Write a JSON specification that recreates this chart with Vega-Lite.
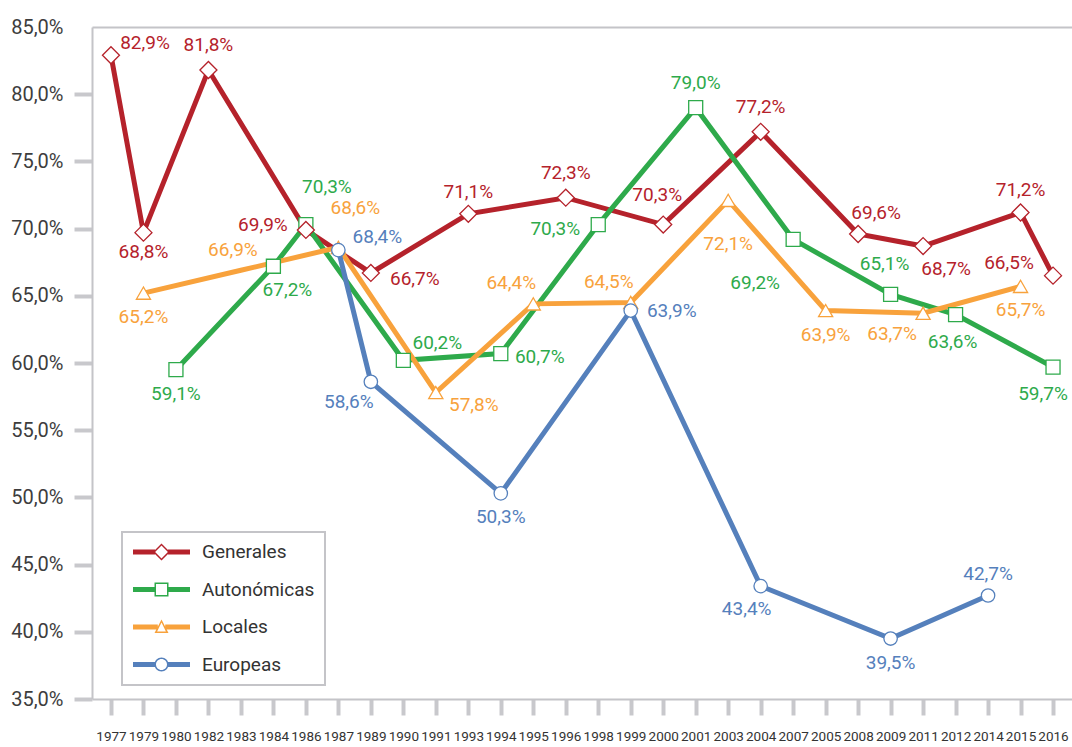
{
  "$schema": "https://vega.github.io/schema/vega-lite/v6.json",
  "width": 980,
  "height": 672,
  "autosize": {"type": "none"},
  "padding": {"left": 92, "top": 27, "right": 0, "bottom": 48},
  "background": "white",
  "config": {"view": {"stroke": null}, "font": "Roboto"},
  "data": {
    "values": [
      {"series": "Generales", "year": "1977", "value": 82.9},
      {"series": "Generales", "year": "1979", "value": 69.7, "shown": 68.8},
      {"series": "Generales", "year": "1982", "value": 81.8},
      {"series": "Generales", "year": "1986", "value": 69.9},
      {"series": "Generales", "year": "1989", "value": 66.7},
      {"series": "Generales", "year": "1993", "value": 71.1},
      {"series": "Generales", "year": "1996", "value": 72.3},
      {"series": "Generales", "year": "2000", "value": 70.3},
      {"series": "Generales", "year": "2004", "value": 77.2},
      {"series": "Generales", "year": "2008", "value": 69.6},
      {"series": "Generales", "year": "2011", "value": 68.7},
      {"series": "Generales", "year": "2015", "value": 71.2},
      {"series": "Generales", "year": "2016", "value": 66.5},
      {"series": "Autonómicas", "year": "1980", "value": 59.5, "shown": 59.1},
      {"series": "Autonómicas", "year": "1984", "value": 67.2},
      {"series": "Autonómicas", "year": "1986", "value": 70.3},
      {"series": "Autonómicas", "year": "1990", "value": 60.2},
      {"series": "Autonómicas", "year": "1994", "value": 60.7},
      {"series": "Autonómicas", "year": "1998", "value": 70.3},
      {"series": "Autonómicas", "year": "2001", "value": 79.0},
      {"series": "Autonómicas", "year": "2007", "value": 69.2},
      {"series": "Autonómicas", "year": "2009", "value": 65.1},
      {"series": "Autonómicas", "year": "2012", "value": 63.6},
      {"series": "Autonómicas", "year": "2016", "value": 59.7},
      {"series": "Locales", "year": "1979", "value": 65.2},
      {"series": "Locales", "year": "1983", "value": 66.9},
      {"series": "Locales", "year": "1987", "value": 68.6},
      {"series": "Locales", "year": "1991", "value": 57.8},
      {"series": "Locales", "year": "1995", "value": 64.4},
      {"series": "Locales", "year": "1999", "value": 64.5},
      {"series": "Locales", "year": "2003", "value": 72.1},
      {"series": "Locales", "year": "2005", "value": 63.9},
      {"series": "Locales", "year": "2011", "value": 63.7},
      {"series": "Locales", "year": "2015", "value": 65.7},
      {"series": "Europeas", "year": "1987", "value": 68.4},
      {"series": "Europeas", "year": "1989", "value": 58.6},
      {"series": "Europeas", "year": "1994", "value": 50.3},
      {"series": "Europeas", "year": "1999", "value": 63.9},
      {"series": "Europeas", "year": "2004", "value": 43.4},
      {"series": "Europeas", "year": "2009", "value": 39.5},
      {"series": "Europeas", "year": "2014", "value": 42.7}
    ]
  },
  "encoding": {
    "x": {
      "field": "year", "type": "ordinal",
      "sort": ["1977","1979","1980","1982","1983","1984","1986","1987","1989","1990","1991","1993","1994","1995","1996","1998","1999","2000","2001","2003","2004","2007","2005","2008","2009","2011","2012","2014","2015","2016"],
      "scale": {"type": "point", "padding": 0.584},
      "axis": {
        "title": null, "labelAngle": 0, "labelFont": "Roboto", "labelFontSize": 13.5,
        "labelColor": "#333333", "labelPadding": 14, "tickSize": 16, "tickWidth": 4, "tickColor": "#c8c8cc",
        "domainColor": "#c4c4c8", "domainWidth": 2, "labelOverlap": false, "grid": false
      }
    },
    "y": {
      "field": "value", "type": "quantitative",
      "scale": {"domain": [35, 85], "nice": false, "zero": false},
      "axis": {
        "title": null, "values": [35,40,45,50,55,60,65,70,75,80,85],
        "labelExpr": "replace(format(datum.value, '.1f'), '.', ',') + '%'",
        "labelFont": "Roboto", "labelFontSize": 20, "labelColor": "#3d3d3d", "labelPadding": 11,
        "tickSize": 18, "tickWidth": 4, "tickColor": "#c8c8cc",
        "tickOpacity": {"condition": {"test": "datum.value == 85", "value": 0}, "value": 1},
        "domainColor": "#c4c4c8", "domainWidth": 2,
        "grid": true, "gridColor": "#c4c4c8", "gridWidth": 2,
        "gridOpacity": {"condition": {"test": "datum.value == 85", "value": 1}, "value": 0}
      }
    },
    "color": {
      "field": "series", "type": "nominal",
      "scale": {"domain": ["Generales","Autonómicas","Locales","Europeas"], "range": ["#B5222B","#2EAA4B","#F8A23C","#5580BC"]},
      "legend": {
        "orient": "none", "legendX": 30, "legendY": 505, "title": null, "direction": "vertical",
        "symbolSize": 400, "symbolStrokeWidth": 0, "labelFont": "Roboto", "labelFontSize": 19,
        "labelColor": "#333333", "labelOffset": 50, "rowPadding": 17.5, "padding": 10,
        "strokeColor": "#c4c4c8", "fillColor": "white",
        "encode": {
          "legend": {"update": {"strokeWidth": {"value": 2}}},
          "symbols": {"update": {
            "shape": {"signal": "datum.value === 'Generales' ? 'M-0.9,-0.25L1.3,-0.25L1.3,0.25L-0.9,0.25Z M2.6,-0.25L4.8,-0.25L4.8,0.25L2.6,0.25Z M1.95,-0.85L2.8,0L1.95,0.85L1.1,0Z M1.95,-0.64L1.31,0L1.95,0.64L2.59,0Z' : datum.value === 'Autonómicas' ? 'M-0.9,-0.25L1.3,-0.25L1.3,0.25L-0.9,0.25Z M2.6,-0.25L4.8,-0.25L4.8,0.25L2.6,0.25Z M1.25,-0.7L2.65,-0.7L2.65,0.7L1.25,0.7Z M1.4,-0.55L1.4,0.55L2.5,0.55L2.5,-0.55Z' : datum.value === 'Locales' ? 'M-0.9,-0.25L1.58,-0.25L1.58,0.25L-0.9,0.25Z M2.32,-0.25L4.8,-0.25L4.8,0.25L2.32,0.25Z M1.95,-0.75L2.65,0.6L1.25,0.6Z M1.95,-0.45L1.51,0.45L2.39,0.45Z' : 'M-0.9,-0.25L1.35,-0.25L1.35,0.25L-0.9,0.25Z M2.55,-0.25L4.8,-0.25L4.8,0.25L2.55,0.25Z M1.25,0A0.7,0.7,0,1,1,2.65,0A0.7,0.7,0,1,1,1.25,0Z M1.4,0A0.55,0.55,0,1,0,2.5,0A0.55,0.55,0,1,0,1.4,0Z'"},
            "size": {"value": 400},
            "fill": {"signal": "scale('color', datum.value)"},
            "stroke": {"value": "transparent"},
            "strokeWidth": {"value": 0},
            "opacity": {"value": 1}
          }}
        }
      }
    }
  },
  "layer": [
    {"mark": {"type": "line", "strokeWidth": 5}, "encoding": {}},
    {
      "transform": [{"filter": "datum.series == 'Autonómicas'"}],
      "mark": {"type": "point", "shape": "square", "size": 196, "filled": false, "fill": "white", "strokeWidth": 1.3, "opacity": 1}
    },
    {
      "transform": [{"filter": "datum.series == 'Locales' && datum.year != '1983'"}],
      "mark": {"type": "point", "shape": "triangle-up", "size": 200, "filled": false, "fill": "white", "strokeWidth": 1.3, "opacity": 1}
    },
    {
      "transform": [{"filter": "datum.series == 'Europeas'"}],
      "mark": {"type": "point", "shape": "circle", "size": 180, "filled": false, "fill": "white", "strokeWidth": 1.3, "opacity": 1}
    },
    {
      "transform": [{"filter": "datum.series == 'Generales'"}],
      "mark": {"type": "point", "shape": "diamond", "size": 289, "filled": false, "fill": "white", "strokeWidth": 1.3, "opacity": 1}
    },
    {
      "transform": [
        {"calculate": "substring(datum.series, 0, 1) + datum.year", "as": "k"},
        {"calculate": "replace(format(isValid(datum.shown) ? datum.shown : datum.value, '.1f'), '.', ',') + '%'", "as": "lbl"}
      ],
      "encoding": {"text": {"field": "lbl"}},
      "layer": [
        {"transform": [{"filter": {"field": "k", "oneOf": ["G1982","G1996","A2001","G2004"]}}], "mark": {"type": "text", "font": "Roboto", "fontSize": 19, "dx": 0, "dy": -25}},
        {"transform": [{"filter": {"field": "k", "oneOf": ["G1993","G2015","E2014"]}}], "mark": {"type": "text", "font": "Roboto", "fontSize": 19, "dx": 0, "dy": -22}},
        {"transform": [{"filter": {"field": "k", "oneOf": ["A1980","L1979","L2015","E1994","E2009","L2005"]}}], "mark": {"type": "text", "font": "Roboto", "fontSize": 19, "dx": 0, "dy": 24}},
        {"transform": [{"filter": {"field": "k", "oneOf": ["A2012"]}}], "mark": {"type": "text", "font": "Roboto", "fontSize": 19, "dx": -3, "dy": 27}},
        {"transform": [{"filter": {"field": "k", "oneOf": ["A2016"]}}], "mark": {"type": "text", "font": "Roboto", "fontSize": 19, "dx": -10, "dy": 27}},
        {"transform": [{"filter": {"field": "k", "oneOf": ["G1979"]}}], "mark": {"type": "text", "font": "Roboto", "fontSize": 19, "dx": 0, "dy": 19}},
        {"transform": [{"filter": {"field": "k", "oneOf": ["G1977"]}}], "mark": {"type": "text", "font": "Roboto", "fontSize": 19, "dx": 34, "dy": -12}},
        {"transform": [{"filter": {"field": "k", "oneOf": ["G1986"]}}], "mark": {"type": "text", "font": "Roboto", "fontSize": 19, "dx": -43, "dy": -5}},
        {"transform": [{"filter": {"field": "k", "oneOf": ["G1989"]}}], "mark": {"type": "text", "font": "Roboto", "fontSize": 19, "dx": 44, "dy": 6}},
        {"transform": [{"filter": {"field": "k", "oneOf": ["G2000","A2009"]}}], "mark": {"type": "text", "font": "Roboto", "fontSize": 19, "dx": -6, "dy": -30}},
        {"transform": [{"filter": {"field": "k", "oneOf": ["G2008"]}}], "mark": {"type": "text", "font": "Roboto", "fontSize": 19, "dx": 18, "dy": -21}},
        {"transform": [{"filter": {"field": "k", "oneOf": ["G2011"]}}], "mark": {"type": "text", "font": "Roboto", "fontSize": 19, "dx": 23, "dy": 23}},
        {"transform": [{"filter": {"field": "k", "oneOf": ["G2016"]}}], "mark": {"type": "text", "font": "Roboto", "fontSize": 19, "dx": -44, "dy": -13}},
        {"transform": [{"filter": {"field": "k", "oneOf": ["A1984"]}}], "mark": {"type": "text", "font": "Roboto", "fontSize": 19, "dx": 14, "dy": 24}},
        {"transform": [{"filter": {"field": "k", "oneOf": ["A1986"]}}], "mark": {"type": "text", "font": "Roboto", "fontSize": 19, "dx": 21, "dy": -38}},
        {"transform": [{"filter": {"field": "k", "oneOf": ["A1990"]}}], "mark": {"type": "text", "font": "Roboto", "fontSize": 19, "dx": 34, "dy": -17}},
        {"transform": [{"filter": {"field": "k", "oneOf": ["A1994"]}}], "mark": {"type": "text", "font": "Roboto", "fontSize": 19, "dx": 39, "dy": 3}},
        {"transform": [{"filter": {"field": "k", "oneOf": ["A1998"]}}], "mark": {"type": "text", "font": "Roboto", "fontSize": 19, "dx": -43, "dy": 4}},
        {"transform": [{"filter": {"field": "k", "oneOf": ["A2007"]}}], "mark": {"type": "text", "font": "Roboto", "fontSize": 19, "dx": -38, "dy": 44}},
        {"transform": [{"filter": {"field": "k", "oneOf": ["L1983"]}}], "mark": {"type": "text", "font": "Roboto", "fontSize": 19, "dx": -8, "dy": -20}},
        {"transform": [{"filter": {"field": "k", "oneOf": ["L1987"]}}], "mark": {"type": "text", "font": "Roboto", "fontSize": 19, "dx": 17, "dy": -39}},
        {"transform": [{"filter": {"field": "k", "oneOf": ["L1991"]}}], "mark": {"type": "text", "font": "Roboto", "fontSize": 19, "dx": 38, "dy": 12}},
        {"transform": [{"filter": {"field": "k", "oneOf": ["L1995","L1999"]}}], "mark": {"type": "text", "font": "Roboto", "fontSize": 19, "dx": -22, "dy": -21}},
        {"transform": [{"filter": {"field": "k", "oneOf": ["L2003"]}}], "mark": {"type": "text", "font": "Roboto", "fontSize": 19, "dx": 0, "dy": 44}},
        {"transform": [{"filter": {"field": "k", "oneOf": ["L2011"]}}], "mark": {"type": "text", "font": "Roboto", "fontSize": 19, "dx": -31, "dy": 21}},
        {"transform": [{"filter": {"field": "k", "oneOf": ["E1987"]}}], "mark": {"type": "text", "font": "Roboto", "fontSize": 19, "dx": 39, "dy": -13}},
        {"transform": [{"filter": {"field": "k", "oneOf": ["E1989"]}}], "mark": {"type": "text", "font": "Roboto", "fontSize": 19, "dx": -22, "dy": 20}},
        {"transform": [{"filter": {"field": "k", "oneOf": ["E1999"]}}], "mark": {"type": "text", "font": "Roboto", "fontSize": 19, "dx": 41, "dy": 0}},
        {"transform": [{"filter": {"field": "k", "oneOf": ["E2004"]}}], "mark": {"type": "text", "font": "Roboto", "fontSize": 19, "dx": -14, "dy": 23}}
      ]
    }
  ]
}
